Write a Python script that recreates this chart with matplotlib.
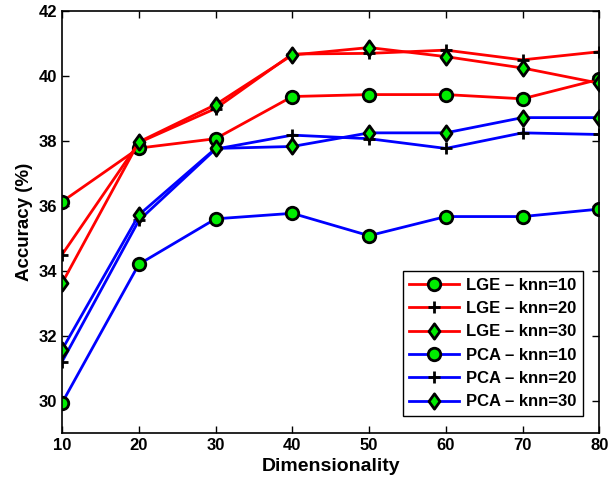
import matplotlib.pyplot as plt
import numpy as np
from matplotlib.path import Path

plt.rcParams['font.family'] = ['Liberation Sans', 'DejaVu Sans']
plt.rcParams['font.weight'] = 'bold'

dims = [10, 20, 30, 40, 50, 60, 70, 80]

lge_knn10 = [36.13, 37.78, 38.07, 39.37, 39.43, 39.43, 39.30, 39.90]
lge_knn20 = [34.50, 37.95, 39.00, 40.68, 40.70, 40.80, 40.50, 40.75]
lge_knn30 = [33.62, 37.97, 39.12, 40.65, 40.88, 40.60, 40.25, 39.78]
pca_knn10 = [29.93, 34.20, 35.60, 35.77, 35.08, 35.67, 35.67, 35.90]
pca_knn20 = [31.20, 35.55, 37.75, 38.18, 38.07, 37.77, 38.25, 38.20]
pca_knn30 = [31.57, 35.72, 37.77, 37.83, 38.25, 38.25, 38.72, 38.72]

# MATLAB-style diamond (a bit wider than matplotlib's thin 'd')
diamond = Path([(0, 1), (0.72, 0), (0, -1), (-0.72, 0), (0, 1)],
               [Path.MOVETO, Path.LINETO, Path.LINETO, Path.LINETO, Path.CLOSEPOLY])

series = [
    ('LGE \u2013 knn=10', lge_knn10, 'red', 'o'),
    ('LGE \u2013 knn=20', lge_knn20, 'red', '+'),
    ('LGE \u2013 knn=30', lge_knn30, 'red', diamond),
    ('PCA \u2013 knn=10', pca_knn10, 'blue', 'o'),
    ('PCA \u2013 knn=20', pca_knn20, 'blue', '+'),
    ('PCA \u2013 knn=30', pca_knn30, 'blue', diamond),
]

fig = plt.figure(figsize=(6.09, 4.87), dpi=100)
ax = fig.add_axes([0.102, 0.111, 0.882, 0.866])

for label, vals, color, marker in series:
    if isinstance(marker, str) and marker == '+':
        ax.plot(dims, vals, color=color, linewidth=2, marker='+', markersize=9,
                markeredgewidth=2, markeredgecolor='black', label=label)
    else:
        ms = 9 if isinstance(marker, str) else 11
        ax.plot(dims, vals, color=color, linewidth=2, marker=marker, markersize=ms,
                markerfacecolor='#00ee00', markeredgecolor='black',
                markeredgewidth=2, label=label)

ax.set_xlim(10, 80)
ax.set_ylim(29, 42)
ax.set_xticks(dims)
ax.set_yticks(np.arange(30, 43, 2))
ax.tick_params(direction='in', top=True, right=True, labelsize=12, width=1, length=5)
for lbl in ax.get_xticklabels() + ax.get_yticklabels():
    lbl.set_fontweight('bold')
for sp in ax.spines.values():
    sp.set_linewidth(1.2)

ax.set_xlabel('Dimensionality', fontsize=14, fontweight='bold', labelpad=4)
ax.set_ylabel('Accuracy (%)', fontsize=13.5, fontweight='bold', labelpad=4)

leg = ax.legend(loc='lower right', bbox_to_anchor=(0.97, 0.04), fontsize=12,
                fancybox=False, framealpha=1, edgecolor='black', borderaxespad=0,
                handlelength=3, borderpad=0.4, labelspacing=0.5, handletextpad=0.4)
leg.get_frame().set_linewidth(1)
for t in leg.get_texts():
    t.set_fontweight('bold')

plt.savefig('out.png', dpi=100)
